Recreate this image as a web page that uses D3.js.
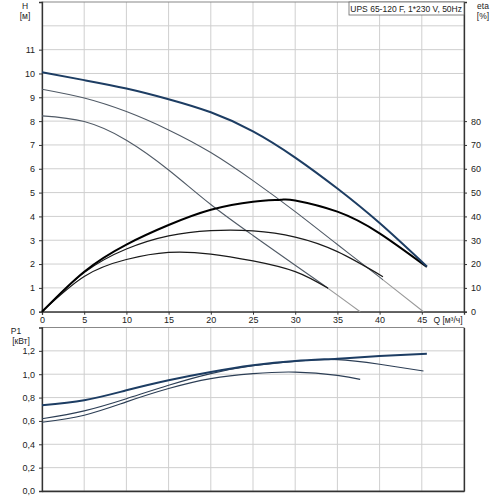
<!DOCTYPE html>
<html><head><meta charset="utf-8">
<script src="https://cdn.jsdelivr.net/npm/d3@7"></script>
<style>body{margin:0;background:#fff}svg{font-family:"Liberation Sans",Arial,sans-serif}</style>
</head><body>
<svg id="c" width="500" height="500"></svg>
<script>
// ---- data ----
const qTicks = [0,5,10,15,20,25,30,35,40,45];
const hTicks = [0,1,2,3,4,5,6,7,8,9,10,11];
const etaTicks = [0,10,20,30,40,50,60,70,80];
const pTicks = [0,0.2,0.4,0.6,0.8,1.0,1.2];
const title = "UPS 65-120 F, 1*230 V, 50Hz";

// head curves [Q, H]
const head1 = [[0,10.05],[5,9.72],[10,9.37],[15,8.92],[20,8.37],[25,7.57],[30,6.47],[35,5.17],[40,3.72],[45.6,1.9]];
const head2 = [[0,9.34],[5,8.97],[10,8.4],[15,7.63],[20,6.68],[25,5.5],[30,4.2],[35,2.82],[40,1.45],[45.2,0]];
const head3 = [[0,8.22],[5,7.98],[10,7.2],[15,5.95],[20,4.5],[25,3.2],[30,1.95],[33.9,0.98],[37.7,0]];
// efficiency curves [Q, eta %]
const eta1 = [[0,0],[5,16.8],[10,28.2],[15,36.4],[20,42.8],[25,46.2],[28.3,47.0],[30,46.7],[35,42.0],[40,32.9],[45.6,18.8]];
const eta2 = [[0,0],[5,16.4],[10,26.3],[15,31.8],[20,34.0],[25,33.9],[30,31.3],[35,25.2],[40.4,14.7]];
const eta3 = [[0,0],[5,14.8],[10,21.9],[15,24.9],[20,24.2],[25,21.3],[30,16.8],[33.9,9.8]];
// power curves [Q, P1 kW]
const p1 = [[0,0.734],[5,0.777],[10,0.862],[15,0.948],[20,1.019],[25,1.076],[30,1.113],[35,1.133],[40,1.155],[45.6,1.176]];
const p2 = [[0,0.618],[5,0.686],[10,0.79],[15,0.905],[20,1.005],[25,1.072],[30,1.11],[35,1.125],[40,1.085],[45.2,1.027]];
const p3 = [[0,0.589],[5,0.649],[10,0.763],[15,0.877],[20,0.962],[25,1.005],[30,1.018],[35,0.99],[37.7,0.956]];

// ---- layout ----
const svg = d3.select("#c");
const L = 42, R = 464;
const x = d3.scaleLinear().domain([0,50]).range([L,R]);
const yH = d3.scaleLinear().domain([0,13]).range([311.7,2]);
const yE = d3.scaleLinear().domain([0,130]).range([311.7,2]);
const yP = d3.scaleLinear().domain([0,1.4]).range([491,327.5]);
const grid = "#cfcfcf", axisC = "#333";

function gridlines(yScale, yVals, y0, y1){
  const g = svg.append("g");
  g.selectAll("line.v").data(d3.range(5,50,5)).join("line")
    .attr("x1",d=>x(d)).attr("x2",d=>x(d)).attr("y1",y0).attr("y2",y1)
    .attr("stroke",grid).attr("stroke-width",1);
  g.selectAll("line.h").data(yVals).join("line")
    .attr("x1",L).attr("x2",R).attr("y1",d=>yScale(d)).attr("y2",d=>yScale(d))
    .attr("stroke",grid).attr("stroke-width",1);
}
gridlines(yH, d3.range(1,13), yH(13), yH(0));
gridlines(yP, [0.2,0.4,0.6,0.8,1.0,1.2], yP(1.4), yP(0));

// borders
svg.append("rect").attr("x",L).attr("y",yH(13)).attr("width",R-L).attr("height",yH(0)-yH(13))
  .attr("fill","none").attr("stroke","#888");
svg.append("rect").attr("x",L).attr("y",yP(1.4)).attr("width",R-L).attr("height",yP(0)-yP(1.4))
  .attr("fill","none").attr("stroke","#888");

const fs = "9px";
// axes
const axH = d3.axisLeft(yH).tickValues(hTicks).tickSize(3).tickPadding(4);
const gH = svg.append("g").attr("transform",`translate(${L},0)`).call(axH);
const axE = d3.axisRight(yE).tickValues(etaTicks).tickSize(3).tickPadding(4);
const gE = svg.append("g").attr("transform",`translate(${R},0)`).call(axE);
const axQ = d3.axisBottom(x).tickValues(qTicks).tickSize(3).tickPadding(2);
const gQ = svg.append("g").attr("transform",`translate(0,${yH(0)})`).call(axQ);
const axP = d3.axisLeft(yP).tickValues(pTicks).tickSize(3).tickPadding(4)
  .tickFormat(d=>d3.format(".1f")(d).replace(".",","));
const gP = svg.append("g").attr("transform",`translate(${L},0)`).call(axP);
const gPb = svg.append("g").attr("transform",`translate(0,${yP(0)})`).call(d3.axisBottom(x).tickValues([]).tickSizeOuter(0));
const gPr = svg.append("g").attr("transform",`translate(${R},0)`).call(d3.axisRight(yP).tickValues([]).tickSizeOuter(0));
[gH,gE,gQ,gP,gPb,gPr].forEach(g=>{
  g.selectAll("path.domain").attr("stroke",axisC).attr("stroke-width",1.3);
  g.selectAll("line").attr("stroke",axisC);
  g.selectAll("text").attr("font-size",fs).attr("fill","#222").attr("font-family","Liberation Sans, Arial, sans-serif");
});

// axis labels
const lab = (t,xx,yy,anchor)=>svg.append("text").attr("x",xx).attr("y",yy).attr("font-size","8.5px")
  .attr("fill","#222").attr("text-anchor",anchor||"middle").text(t);
lab("H",25,9); lab("[м]",25,19);
lab("eta",483,9); lab("[%]",483,19);
lab("P1",16,334); lab("[кВт]",21,344);
lab("Q [м³/ч]",448,323);

// title box
const tb = svg.append("g");
tb.append("rect").attr("x",349).attr("y",2).attr("width",R-349).attr("height",13)
  .attr("fill","#fff").attr("stroke","#666").attr("stroke-width",0.8);
tb.append("text").attr("x",R-2).attr("y",12).attr("text-anchor","end").attr("font-size","8.5px").attr("fill","#222").text(title);

// clip paths to split head curves at the end of their efficiency curve
const defs = svg.append("defs");
function clip(id, x0, x1){
  defs.append("clipPath").attr("id",id).append("rect").attr("x",x0).attr("y",0).attr("width",x1-x0).attr("height",500);
  return `url(#${id})`;
}
const e2end = x(eta2[eta2.length-1][0]), e3end = x(eta3[eta3.length-1][0]);

// curves
const lineH = d3.line().x(d=>x(d[0])).y(d=>yH(d[1])).curve(d3.curveNatural);
const lineE = d3.line().x(d=>x(d[0])).y(d=>yE(d[1])).curve(d3.curveNatural);
const lineP = d3.line().x(d=>x(d[0])).y(d=>yP(d[1])).curve(d3.curveNatural);
const draw = (data,gen,color,w,cp)=>{
  const p = svg.append("path").datum(data).attr("d",gen)
    .attr("fill","none").attr("stroke",color).attr("stroke-width",w).attr("stroke-linejoin","round");
  if (cp) p.attr("clip-path",cp);
  return p;
};

draw(head3,lineH,"#505a66",1.1,clip("c3a",0,e3end));
draw(head3,lineH,"#9a9a9a",1.1,clip("c3b",e3end,500));
draw(head2,lineH,"#505a66",1.1,clip("c2a",0,e2end));
draw(head2,lineH,"#9a9a9a",1.1,clip("c2b",e2end,500));
draw(eta3,lineE,"#1a1a1a",1.2);
draw(eta2,lineE,"#1a1a1a",1.2);
draw(eta1,lineE,"#000",2);
draw(head1,lineH,"#1d3d63",2);

draw(p3,lineP,"#2c3e55",1.1);
draw(p2,lineP,"#2c3e55",1.1);
draw(p1,lineP,"#1d3d63",2);
</script>
</body></html>
